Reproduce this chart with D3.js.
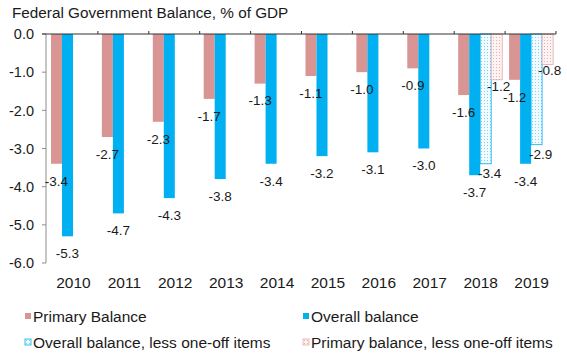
<!DOCTYPE html>
<html>
  <head>
    <script src="https://d3js.org/d3.v7.min.js"></script>
    <style>
      body {
        margin: 0;
        background: #ffffff;
      }
      text {
        font-family: "Liberation Sans", Arial, sans-serif;
        fill: #1a1a1a;
      }
    </style>
  </head>

  <body>
    <div id="chartContainer"></div>
  </body>

  <script type="text/javascript">
    const years = ["2010", "2011", "2012", "2013", "2014", "2015", "2016", "2017", "2018", "2019"];
    const primaryBalance = [-3.4, -2.7, -2.3, -1.7, -1.3, -1.1, -1.0, -0.9, -1.6, -1.2];
    const overallBalance = [-5.3, -4.7, -4.3, -3.8, -3.4, -3.2, -3.1, -3.0, -3.7, -3.4];
    const overallLessOneOff = [null, null, null, null, null, null, null, null, -3.4, -2.9];
    const primaryLessOneOff = [null, null, null, null, null, null, null, null, -1.2, -0.8];
    const yTicks = [0, -1, -2, -3, -4, -5, -6];

    const series = [
      { key: "primary", name: "Primary Balance", values: primaryBalance },
      { key: "overall", name: "Overall balance", values: overallBalance },
      { key: "overallLess", name: "Overall balance, less one-off items", values: overallLessOneOff },
      { key: "primaryLess", name: "Primary balance, less one-off items", values: primaryLessOneOff },
    ];

    const width = 567,
      height = 355;

    const svg = d3
      .select("#chartContainer")
      .append("svg")
      .attr("width", width)
      .attr("height", height);

    // dotted fills for the "less one-off items" bars
    const defs = svg.append("defs");
    const bluePat = defs
      .append("pattern")
      .attr("id", "blueDots")
      .attr("patternUnits", "userSpaceOnUse")
      .attr("width", 3)
      .attr("height", 3);
    bluePat.append("rect").attr("width", 3).attr("height", 3).attr("fill", "#f2fbff");
    bluePat.append("rect").attr("x", 1).attr("y", 1).attr("width", 1).attr("height", 1).attr("fill", "#7fd3f5");

    const pinkPat = defs
      .append("pattern")
      .attr("id", "pinkDots")
      .attr("patternUnits", "userSpaceOnUse")
      .attr("width", 3)
      .attr("height", 3);
    pinkPat.append("rect").attr("width", 3).attr("height", 3).attr("fill", "#fdf3f3");
    pinkPat.append("rect").attr("x", 1).attr("y", 1).attr("width", 1).attr("height", 1).attr("fill", "#e4aeae");

    const style = {
      primary: { fill: "#d99594", stroke: "none", dx: 0, dy: 17 },
      overall: { fill: "#00b0f0", stroke: "none", dx: 0, dy: 17 },
      overallLess: { fill: "url(#blueDots)", stroke: "#00b0f0", dx: 4, dy: 9 },
      primaryLess: { fill: "url(#pinkDots)", stroke: "#e3aaa9", dx: 2, dy: 6 },
    };

    const x0 = d3.scaleBand().domain(years).range([47, 556]).padding(0);
    const x1 = d3
      .scaleBand()
      .domain(series.map((s) => s.key))
      .range([4, 48])
      .padding(0);
    const y = d3.scaleLinear().domain([0, -6]).range([34, 263]);

    // title
    svg
      .append("text")
      .attr("x", 12)
      .attr("y", 18)
      .style("font-size", "15.3px")
      .text("Federal Government Balance, % of GDP");

    // bars
    const bars = [];
    series.forEach((s) => {
      s.values.forEach((v, i) => {
        if (v !== null) bars.push({ key: s.key, year: years[i], value: v });
      });
    });

    svg
      .append("g")
      .selectAll("rect")
      .data(bars)
      .enter()
      .append("rect")
      .attr("x", (d) => x0(d.year) + x1(d.key))
      .attr("y", y(0))
      .attr("width", x1.bandwidth())
      .attr("height", (d) => y(d.value) - y(0))
      .attr("fill", (d) => style[d.key].fill)
      .attr("stroke", (d) => style[d.key].stroke)
      .attr("stroke-width", 0.8);

    // y axis
    const yAxis = svg.append("g");
    yAxis
      .append("line")
      .attr("x1", 46)
      .attr("x2", 46)
      .attr("y1", y(0))
      .attr("y2", y(-6))
      .attr("stroke", "#8c8c8c");
    yAxis
      .selectAll(".tick")
      .data(yTicks)
      .enter()
      .append("line")
      .attr("x1", 42)
      .attr("x2", 46)
      .attr("y1", (d) => y(d))
      .attr("y2", (d) => y(d))
      .attr("stroke", "#8c8c8c");
    yAxis
      .selectAll("text")
      .data(yTicks)
      .enter()
      .append("text")
      .attr("x", 34)
      .attr("y", (d) => y(d))
      .attr("dy", "0.36em")
      .attr("text-anchor", "end")
      .style("font-size", "14.5px")
      .text((d) => d3.format(".1f")(d).replace("−", "-"));

    // zero line with upward category ticks
    const xAxis = svg.append("g");
    xAxis
      .append("line")
      .attr("x1", 42)
      .attr("x2", 556)
      .attr("y1", y(0))
      .attr("y2", y(0))
      .attr("stroke", "#333333");
    xAxis
      .selectAll(".tick")
      .data(years.slice(1).concat(["end"]))
      .enter()
      .append("line")
      .attr("x1", (d) => (d === "end" ? 556 : x0(d)))
      .attr("x2", (d) => (d === "end" ? 556 : x0(d)))
      .attr("y1", y(0) - 3)
      .attr("y2", y(0))
      .attr("stroke", "#333333");
    xAxis
      .selectAll("text")
      .data(years)
      .enter()
      .append("text")
      .attr("x", (d) => x0(d) + x0.bandwidth() / 2 + 1)
      .attr("y", 288)
      .attr("text-anchor", "middle")
      .style("font-size", "15.5px")
      .text((d) => d);

    // data labels
    svg
      .append("g")
      .selectAll("text")
      .data(bars)
      .enter()
      .append("text")
      .attr("x", (d) => x0(d.year) + x1(d.key) + x1.bandwidth() / 2 + style[d.key].dx)
      .attr("y", (d) => y(d.value) + style[d.key].dy)
      .attr("dy", "0.36em")
      .attr("text-anchor", "middle")
      .style("font-size", "13.5px")
      .text((d) => d3.format(".1f")(d.value).replace("−", "-"));

    // legend
    const legendPos = [
      { x: 25, y: 316 },
      { x: 303, y: 316 },
      { x: 25, y: 342 },
      { x: 303, y: 342 },
    ];
    const legend = svg
      .append("g")
      .selectAll("g")
      .data(series)
      .enter()
      .append("g")
      .attr("transform", (d, i) => `translate(${legendPos[i].x},${legendPos[i].y})`);
    legend
      .append("rect")
      .attr("x", 0)
      .attr("y", -3)
      .attr("width", 6)
      .attr("height", 6)
      .attr("fill", (d) => style[d.key].fill)
      .attr("stroke", (d) => style[d.key].stroke)
      .attr("stroke-width", 0.8);
    legend
      .append("text")
      .attr("x", 8)
      .attr("y", 0)
      .attr("dy", "0.36em")
      .style("font-size", "15.5px")
      .text((d) => d.name);
  </script>
</html>
